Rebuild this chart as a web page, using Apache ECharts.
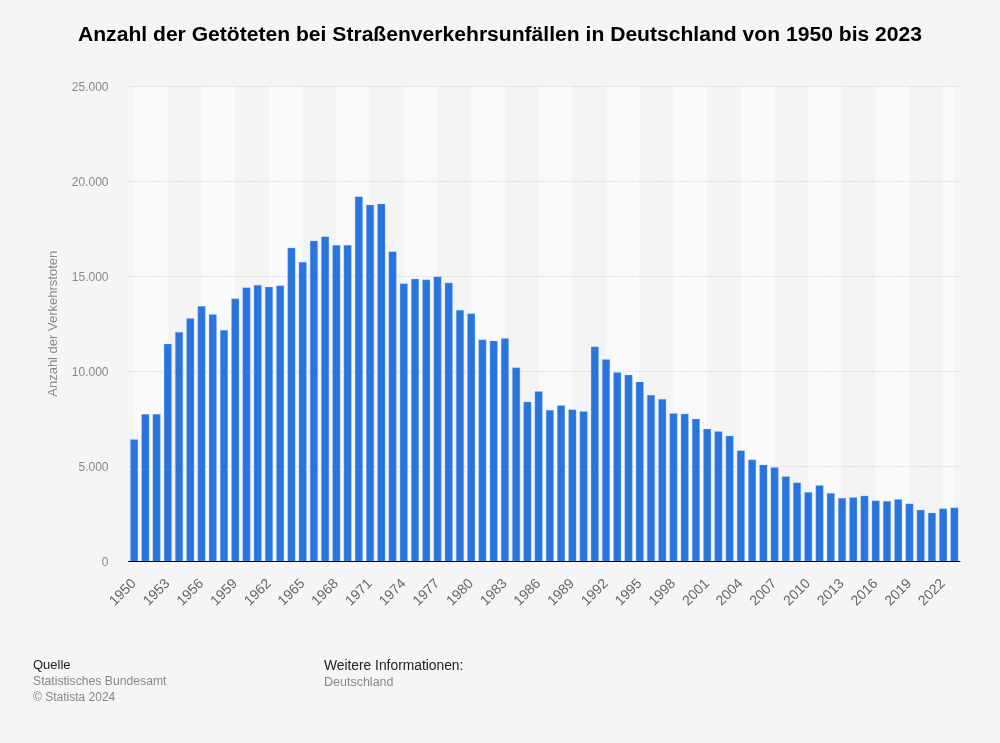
<!DOCTYPE html>
<html>
	<head>
		<meta charset="utf-8">
		<title>Verkehrstote</title>
		<style>
			html,body{margin:0;padding:0;background:#f5f5f5;}
			#main{width:1000px;height:743px;}
		</style>
	</head>
	<body>
		<div id="main"></div>
		<script src="https://cdn.jsdelivr.net/npm/echarts@6/dist/echarts.min.js"></script>
		<script type="text/javascript">
			var years = ['1950','1951','1952','1953','1954','1955','1956','1957','1958','1959',
				'1960','1961','1962','1963','1964','1965','1966','1967','1968','1969',
				'1970','1971','1972','1973','1974','1975','1976','1977','1978','1979',
				'1980','1981','1982','1983','1984','1985','1986','1987','1988','1989',
				'1990','1991','1992','1993','1994','1995','1996','1997','1998','1999',
				'2000','2001','2002','2003','2004','2005','2006','2007','2008','2009',
				'2010','2011','2012','2013','2014','2015','2016','2017','2018','2019',
				'2020','2021','2022','2023'];
			var deaths = [6428,7750,7750,11449,12071,12791,13427,13004,12169,13822,
				14406,14543,14445,14513,16494,15753,16868,17084,16636,16646,
				19193,18753,18811,16302,14614,14870,14820,14978,14662,13222,
				13041,11674,11608,11732,10199,8400,8948,7967,8213,7995,
				7906,11300,10631,9949,9814,9454,8758,8549,7792,7772,
				7503,6977,6842,6613,5842,5361,5091,4949,4477,4152,
				3648,4009,3600,3339,3377,3459,3206,3180,3275,3046,
				2719,2562,2788,2839];
			var yTicks = [0,5000,10000,15000,20000,25000];
			var titleText = 'Anzahl der Getöteten bei Straßenverkehrsunfällen in Deutschland von 1950 bis 2023';
			var yAxisName = 'Anzahl der Verkehrstoten';

			var font = '"Liberation Sans", Arial, sans-serif';

			// Streifen laufen von Jahreslabel zu Jahreslabel (Mitte zu Mitte),
			// deshalb auf einer versteckten Werteachse mit dem Index als x
			var bands = [];
			for (var i = 0; i < years.length - 1; i += 3) {
				var end = Math.min(i + 3, years.length - 1);
				bands.push([
					{xAxis: i, itemStyle: {color: (i / 3) % 2 == 0 ? '#fafafa' : '#f4f4f4'}},
					{xAxis: end}
				]);
			}

			function footText(left, top, text, color, size) {
				return {
					type: 'text', left: left, top: top, silent: true,
					style: {text: text, fill: color, font: size + 'px ' + font}
				};
			}

			var myChart = echarts.init(document.getElementById('main'), null, {renderer: 'canvas'});
			var option = {
				animation: false,
				backgroundColor: '#f5f5f5',
				title: {
					text: titleText,
					left: 'center',
					top: 20,
					textStyle: {fontFamily: font, fontSize: 21.1, fontWeight: 'bold', color: '#000'}
				},
				grid: {left: 128.5, right: 40, top: 86, bottom: 181.5},
				xAxis: [{
					type: 'category',
					data: years,
					z: 3,
					axisLine: {lineStyle: {color: '#000', width: 1}},
					axisTick: {show: false},
					axisLabel: {
						interval: 2,
						rotate: 45,
						color: '#666',
						fontFamily: font,
						fontSize: 14,
						margin: 20
					}
				}, {
					type: 'value',
					show: false,
					min: -0.5,
					max: years.length - 0.5,
					splitLine: {show: false}
				}],
				yAxis: {
					type: 'value',
					min: 0,
					max: yTicks[yTicks.length - 1],
					interval: yTicks[1],
					z: 1,
					name: yAxisName,
					nameLocation: 'middle',
					nameGap: 69,
					nameTextStyle: {color: '#888', fontFamily: font, fontSize: 13},
					axisLine: {show: false},
					axisTick: {show: false},
					axisLabel: {
						color: '#888',
						fontFamily: font,
						fontSize: 12,
						margin: 20,
						formatter: function (v) {
							return '{a|' + String(v).replace(/\B(?=(\d{3})+$)/g, '.') + '}';
						},
						rich: {a: {color: '#888', fontFamily: font, fontSize: 12, padding: [3, 0, 0, 0]}}
					},
					splitLine: {lineStyle: {color: '#c4c4c4', type: [1, 2], width: 1}}
				},
				series: [{
					type: 'line',
					xAxisIndex: 1,
					data: [],
					z: 0,
					markArea: {silent: true, z: 0, data: bands}
				}, {
					type: 'bar',
					data: deaths,
					barWidth: 8,
					z: 2,
					itemStyle: {color: '#2975de', borderColor: 'rgba(160,195,245,0.6)', borderWidth: 0.5}
				}],
				graphic: [
					footText(33, 659, 'Quelle', '#222', 13),
					footText(33, 676, 'Statistisches Bundesamt', '#888', 12.2),
					footText(33, 692, '© Statista 2024', '#888', 12),
					footText(324, 659, 'Weitere Informationen:', '#222', 13.8),
					footText(324, 676, 'Deutschland', '#888', 12.5)
				]
			};
			myChart.setOption(option);
		</script>
	</body>
</html>
